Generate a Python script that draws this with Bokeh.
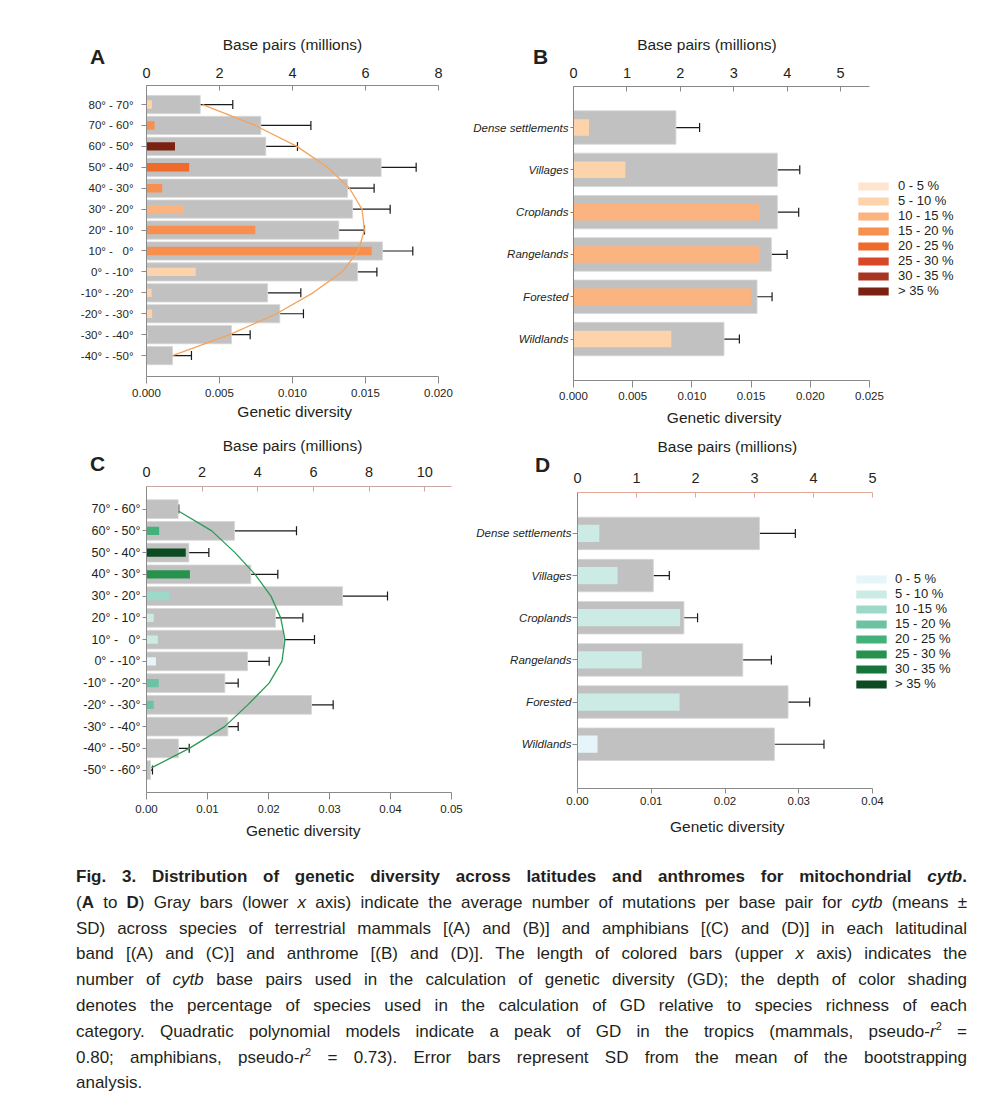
from bokeh.plotting import figure
from bokeh.models import (Range1d, LinearAxis, Whisker, TeeHead, ColumnDataSource,
                          Legend, LegendItem, Div, FixedTicker, NumeralTickFormatter, Spacer)
from bokeh.layouts import column, row
from bokeh.embed import file_html
from bokeh.resources import INLINE

FONT = "Liberation Sans"
TXT = "#231f20"
NB = "\u00a0"

# ---------------- data ----------------
lat_A = ["80° - 70°", "70° - 60°", "60° - 50°", "50° - 40°", "40° - 30°", "30° - 20°",
         "20° - 10°", "10° -\u00a0\u00a0\u00a00°", "0° - -10°", "-10° - -20°", "-20° - -30°",
         "-30° - -40°", "-40° - -50°"]
gd_A = [0.00368, 0.00783, 0.00817, 0.01607, 0.01377, 0.01411, 0.01317, 0.01616,
        0.01445, 0.00829, 0.00913, 0.00582, 0.00178]
sd_A = [0.00223, 0.00343, 0.00217, 0.00240, 0.00182, 0.00258, 0.00176, 0.00208,
        0.00133, 0.00228, 0.00162, 0.00128, 0.00130]
bp_A = [0.15, 0.22, 0.78, 1.17, 0.43, 1.00, 2.98, 6.17, 1.35, 0.14, 0.155, 0.03, 0.0]
cls_A = [1, 3, 7, 4, 3, 2, 3, 3, 1, 1, 1, 0, 0]
curve_A_row = [0, 1, 2, 3, 4, 5, 6, 7, 8, 9, 10, 11, 12]
curve_A_gd = [0.00384, 0.00745, 0.01030, 0.01240, 0.01390, 0.01476, 0.01493, 0.01450,
              0.01340, 0.01140, 0.00890, 0.00570, 0.00178]

anth = ["Dense settlements", "Villages", "Croplands", "Rangelands", "Forested", "Wildlands"]
gd_B = [0.00865, 0.01722, 0.01722, 0.01671, 0.01550, 0.01271]
sd_B = [0.00200, 0.00189, 0.00180, 0.00133, 0.00127, 0.00130]
bp_B = [0.29, 0.97, 3.48, 3.49, 3.33, 1.83]
cls_B = [1, 1, 2, 2, 2, 1]

lat_C = ["70° - 60°", "60° - 50°", "50° - 40°", "40° - 30°", "30° - 20°", "20° - 10°",
         "10° -\u00a0\u00a0\u00a00°", "0° - -10°", "-10° - -20°", "-20° - -30°", "-30° - -40°",
         "-40° - -50°", "-50° - -60°"]
gd_C = [0.00519, 0.01443, 0.00694, 0.01710, 0.03213, 0.02115, 0.02251, 0.01656,
        0.01284, 0.02705, 0.01333, 0.00525, 0.00066]
sd_C = [0.00010, 0.01016, 0.00328, 0.00443, 0.00738, 0.00448, 0.00503, 0.00355,
        0.00219, 0.00355, 0.00170, 0.00175, 0.00032]
bp_C = [0.0, 0.455, 1.41, 1.56, 0.81, 0.26, 0.41, 0.34, 0.44, 0.26, 0.0, 0.0, 0.0]
cls_C = [0, 4, 7, 5, 2, 1, 1, 0, 3, 3, 0, 0, 0]
curve_C_row = [0.1, 1, 2, 3, 4, 5, 6, 7, 8, 9, 10, 11, 11.9]
curve_C_gd = [0.0053, 0.0107, 0.0145, 0.0178, 0.0204, 0.0220, 0.0227, 0.0222,
              0.0201, 0.0166, 0.0128, 0.0070, 0.0008]

gd_D = [0.02467, 0.01028, 0.01443, 0.02241, 0.02855, 0.02670]
sd_D = [0.00487, 0.00217, 0.00185, 0.00388, 0.00293, 0.00672]
bp_D = [0.37, 0.68, 1.74, 1.09, 1.73, 0.34]
cls_D = [1, 1, 1, 1, 1, 0]

oranges = ["#fde5cf", "#fdd3ab", "#fbb47f", "#f7904f", "#ef6b2b", "#d84727", "#a9341f", "#7a2111"]
greens = ["#e5f5f9", "#cbebe4", "#9dd9c8", "#6cc3a3", "#43b27a", "#26924d", "#16733a", "#0c4a22"]
pct_B = ["0 - 5 %", "5 - 10 %", "10 - 15 %", "15 - 20 %", "20 - 25 %", "25 - 30 %", "30 - 35 %", "> 35 %"]
pct_D = ["0 - 5 %", "5 - 10 %", "10 -15 %", "15 - 20 %", "20 - 25 %", "25 - 30 %", "30 - 35 %", "> 35 %"]

gd_ticks_A = [0.0, 0.005, 0.010, 0.015, 0.020]
gd_ticks_B = [0.0, 0.005, 0.010, 0.015, 0.020, 0.025]
gd_ticks_C = [0.0, 0.01, 0.02, 0.03, 0.04, 0.05]
gd_ticks_D = [0.0, 0.01, 0.02, 0.03, 0.04]
bp_ticks_A = [0, 2, 4, 6, 8]
bp_ticks_B = [0, 1, 2, 3, 4, 5]
bp_ticks_C = [0, 2, 4, 6, 8, 10]
bp_ticks_D = [0, 1, 2, 3, 4, 5]

TOP_LABEL = "Base pairs (millions)"
BOT_LABEL = "Genetic diversity"


def make_panel(cats, gd, sd, bp, cls, palette, gd_end, gd_ticks, gd_fmt, bp_end, bp_ticks,
               fw, fh, bl, br, bt, bb, pad_top, pad_bot, gray_h, col_h,
               cat_size, cat_style, cat_standoff, cat_tick,
               curve=None, curve_color=None, legend=None, legend_loc=None, legend_std=6,
               extra_w=0, top_label=TOP_LABEL, bot_label=BOT_LABEL,
               left_col="#8a8a8a", top_col="#8a8a8a", bot_col="#8a8a8a",
               top_std=8, top_lab_std=12, bot_std=5, bot_lab_std=3, bot_tick=7):
    n = len(cats)
    ys = list(range(n))
    # the frame may be wider than the axes (extra_w) to host the legend
    scale = (fw + extra_w) / fw
    p = figure(frame_width=fw + extra_w, frame_height=fh, min_border_left=bl, min_border_right=br,
               min_border_top=bt, min_border_bottom=bb,
               x_range=Range1d(0, gd_end * scale), y_range=Range1d(n - 1 + pad_bot, -pad_top),
               output_backend="svg", toolbar_location=None)
    p.extra_x_ranges = {"bp": Range1d(0, bp_end * scale)}
    p.outline_line_color = None
    p.grid.visible = False
    p.background_fill_color = "white"
    p.border_fill_color = None

    p.hbar(y=ys, left=0, right=gd, height=gray_h, fill_color="#c1c1c1",
           line_color="#d6d6d6", line_width=0.8)
    p.hbar(y=ys, left=0, right=bp, height=col_h, fill_color=[palette[c] for c in cls],
           line_color=None, x_range_name="bp")
    if curve is not None:
        p.line(x=curve[1], y=curve[0], line_color=curve_color, line_width=1.3)

    src = ColumnDataSource(dict(y=ys, lo=gd, hi=[g + s for g, s in zip(gd, sd)]))
    p.add_layout(Whisker(source=src, base="y", lower="lo", upper="hi", dimension="width",
                         line_color="#1a1a1a", line_width=1.2, lower_head=None,
                         upper_head=TeeHead(size=9, line_color="#1a1a1a", line_width=1.2)))

    # bottom axis
    ax = p.below[0]
    ax.bounds = (0, gd_end)
    ax.ticker = FixedTicker(ticks=gd_ticks)
    ax.formatter = NumeralTickFormatter(format=gd_fmt)
    ax.axis_label = bot_label
    ax.axis_label_text_font = FONT
    ax.axis_label_text_font_style = "normal"
    ax.axis_label_text_font_size = "15.5px"
    ax.axis_label_text_color = TXT
    ax.axis_label_standoff = int(round(bot_lab_std))
    ax.major_label_text_font = FONT
    ax.major_label_text_font_size = "11.5px"
    ax.major_label_text_color = TXT
    ax.major_label_standoff = int(round(bot_std))
    ax.major_tick_out = bot_tick
    ax.major_tick_in = 0
    ax.minor_tick_line_color = None
    ax.axis_line_color = bot_col
    ax.major_tick_line_color = bot_col

    # top axis
    top = LinearAxis(x_range_name="bp", ticker=FixedTicker(ticks=bp_ticks),
                     formatter=NumeralTickFormatter(format="0"),
                     axis_label=top_label, bounds=(0, bp_end))
    top.axis_label_text_font = FONT
    top.axis_label_text_font_style = "normal"
    top.axis_label_text_font_size = "15.5px"
    top.axis_label_text_color = TXT
    top.axis_label_standoff = int(round(top_lab_std))
    top.major_label_text_font = FONT
    top.major_label_text_font_size = "14.5px"
    top.major_label_text_color = TXT
    top.major_label_standoff = int(round(top_std))
    top.major_tick_out = 0
    top.major_tick_in = 5
    top.minor_tick_line_color = None
    top.axis_line_color = top_col
    top.major_tick_line_color = top_col
    p.add_layout(top, "above")

    # left axis
    ly = p.left[0]
    ly.ticker = FixedTicker(ticks=ys)
    ly.major_label_overrides = {i: c for i, c in enumerate(cats)}
    ly.major_label_text_font = FONT
    ly.major_label_text_font_size = cat_size
    ly.major_label_text_font_style = cat_style
    ly.major_label_text_color = TXT
    ly.major_label_standoff = cat_standoff
    ly.major_tick_out = cat_tick
    ly.major_tick_in = 0
    ly.minor_tick_line_color = None
    ly.axis_line_color = left_col
    ly.major_tick_line_color = left_col

    if legend is not None:
        labels, colors = legend
        items = []
        for lab, col in zip(labels, colors):
            r = p.hbar(y=[0], left=[0], right=[0], height=0.0, fill_color=col, line_color=None)
            items.append(LegendItem(label=lab, renderers=[r]))
        lg = Legend(items=items, location=legend_loc, orientation="vertical",
                    glyph_width=38, glyph_height=10, label_height=10, spacing=0,
                    padding=0, margin=0, label_standoff=legend_std,
                    label_text_font=FONT, label_text_font_size="13px",
                    label_text_color=TXT, background_fill_alpha=0, border_line_alpha=0)
        p.add_layout(lg)
    return p


pA = make_panel(lat_A, gd_A, sd_A, bp_A, cls_A, oranges, 0.020, gd_ticks_A, "0.000", 8.0, bp_ticks_A,
                292, 291, 146, 26, 85, 48, 0.91, 1.0, 0.87, 0.40,
                "11.5px", "normal", 8, 5,
                curve=(curve_A_row, curve_A_gd), curve_color="#f5a35a",
                bot_label=NB + BOT_LABEL,
                top_std=8, top_lab_std=12, bot_std=5, bot_lab_std=3)
pC = make_panel(lat_C, gd_C, sd_C, bp_C, cls_C, greens, 0.05, gd_ticks_C, "0.00", 10.96, bp_ticks_C,
                305, 306, 146, 13, 62, 53, 1.04, 1.03, 0.86, 0.38,
                "12.5px", "normal", 2, 4,
                curve=(curve_C_row, curve_C_gd), curve_color="#2b9a57", top_col="#c9a7a2",
                top_label=TOP_LABEL + NB * 3, bot_label=NB * 2 + BOT_LABEL,
                top_std=10, top_lab_std=10, bot_std=5, bot_lab_std=6)
pB = make_panel(anth, gd_B, sd_B, bp_B, cls_B, oranges, 0.025, gd_ticks_B, "0.000", 5.54, bp_ticks_B,
                296, 294, 109, 5, 86, 50, 0.97, 0.98, 0.79, 0.39,
                "11.5px", "italic", 2, 3,
                legend=(pct_B, oranges), legend_loc=(281, 82), legend_std=6, extra_w=100,
                left_col="#b8734f",
                top_label=TOP_LABEL + NB * 30, bot_label=BOT_LABEL + NB * 22,
                top_std=9, top_lab_std=12, bot_std=4, bot_lab_std=6)
pD = make_panel(anth, gd_D, sd_D, bp_D, cls_D, greens, 0.04, gd_ticks_D, "0.00", 5.0, bp_ticks_D,
                295, 296, 109, 7, 62, 57, 0.97, 1.05, 0.77, 0.41,
                "11.5px", "italic", 1, 5,
                legend=(pct_D, greens), legend_loc=(275, 97), legend_std=5, extra_w=95,
                top_col="#e3a898",
                top_label=TOP_LABEL + NB * 21, bot_label=BOT_LABEL + NB * 21,
                top_std=10, top_lab_std=15, bot_std=3, bot_lab_std=10, bot_tick=5)

# panel letters, drawn as HTML over the figures
letter_html = "<div style='position:relative;width:974px;height:0;overflow:visible;'>"
for t, lx, base in [("A", 90, 65), ("B", 533, 65), ("C", 90, 472), ("D", 535, 473)]:
    letter_html += (f"<div style=\"position:absolute;left:{lx}px;top:{base - 31}px;"
                    f"font-family:'Liberation Sans',Arial,sans-serif;font-weight:bold;font-size:21px;"
                    f"line-height:21px;color:#231f20;z-index:10;\">{t}</div>")
letter_html += "</div>"
letters = Div(text=letter_html, width=974, height=0, margin=0,
              styles={"overflow": "visible", "z-index": "10"})

sup = "<sup style='font-size:11px;line-height:0'>2</sup>"
cap_lines = [
    "<b>Fig. 3. Distribution of genetic diversity across latitudes and anthromes for mitochondrial <i>cytb</i>.</b>",
    "(<b>A</b> to <b>D</b>) Gray bars (lower <i>x</i> axis) indicate the average number of mutations per base pair for <i>cytb</i> (means ±",
    "SD) across species of terrestrial mammals [(A) and (B)] and amphibians [(C) and (D)] in each latitudinal",
    "band [(A) and (C)] and anthrome [(B) and (D)]. The length of colored bars (upper <i>x</i> axis) indicates the",
    "number of <i>cytb</i> base pairs used in the calculation of genetic diversity (GD); the depth of color shading",
    "denotes the percentage of species used in the calculation of GD relative to species richness of each",
    f"category. Quadratic polynomial models indicate a peak of GD in the tropics (mammals, pseudo-<i>r</i>{sup} =",
    f"0.80; amphibians, pseudo-<i>r</i>{sup} = 0.73). Error bars represent SD from the mean of the bootstrapping",
    "analysis.",
]
html = ("<div style=\"font-family:'Liberation Sans',Arial,sans-serif;font-size:17px;line-height:25.8px;"
        "color:#231f20;padding-left:76px;padding-top:19px;width:967px;box-sizing:border-box;\">")
for i, ln in enumerate(cap_lines):
    last = "left" if i == len(cap_lines) - 1 else "justify"
    html += f"<div style='text-align:justify;text-align-last:{last};'>{ln}</div>"
html += "</div>"
caption = Div(text=html, width=974, height=260, margin=0)

right_col = column(pB, row(Spacer(width=4, height=415), pD))
layout = column(letters, row(column(pA, pC), right_col), caption)
open("out.html", "w").write(file_html(layout, INLINE))
